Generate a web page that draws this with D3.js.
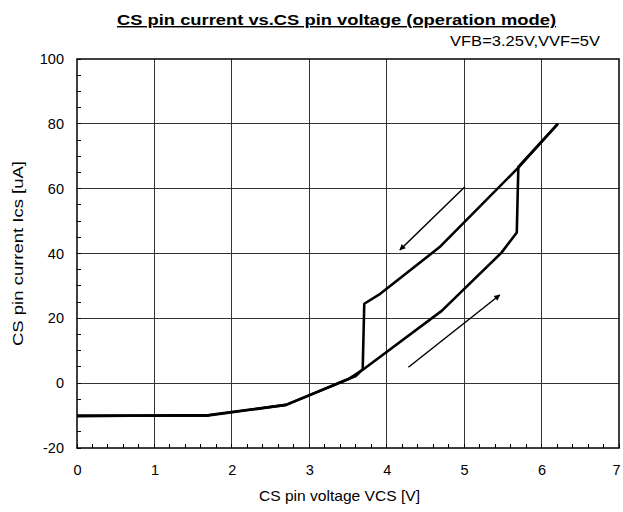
<!DOCTYPE html>
<html>
<head>
<meta charset="utf-8">
<script src="https://cdn.jsdelivr.net/npm/d3@7"></script>
<style>
  body { margin: 0; background: #fff; }
  text { font-family: "Liberation Sans", Arial, sans-serif; fill: #000; }
  .axis text { font-family: "Liberation Sans", Arial, sans-serif; }
  .grid line { stroke: #333; stroke-width: 1; shape-rendering: crispEdges; }
  .minor line { stroke: #000; stroke-width: 1; shape-rendering: crispEdges; }
</style>
</head>
<body>
<div id="chart"></div>
<script>
// data
var xTicks = [0, 1, 2, 3, 4, 5, 6, 7];
var yTicks = [-20, 0, 20, 40, 60, 80, 100];

// rising sweep (lower branch, then jump up at ~5.7V)
var upVolt = [0, 1.70, 2.70, 3.50, 3.70, 4.71, 5.48, 5.68, 5.70, 6.21];
var upCurr = [-10.2, -9.8, -6.7, 1.2, 4.3, 22.3, 40.2, 46.5, 66.7, 80];

// falling sweep (upper branch, then jump down at ~3.7V)
var downVolt = [6.21, 5.70, 4.68, 3.90, 3.71, 3.69, 3.60, 2.70, 1.70, 0.68, 0];
var downCurr = [80, 66.5, 41.9, 27.3, 24.5, 4.3, 2.2, -6.7, -10.0, -10.0, -10.0];

// direction arrows [x1, y1, x2, y2]
var arrowDown = [5.01, 60.6, 4.17, 41.1];
var arrowUp = [4.28, 4.9, 5.46, 27.2];

var margin = {top: 59, right: 4, bottom: 64, left: 77};

var x = d3.scaleLinear().domain([0, 7]).range([0, 542]);
var y = d3.scaleLinear().domain([-20, 100]).range([389, 0]);

var svg = d3.select("#chart").append("svg")
    .attr("width", 623)
    .attr("height", 512);

var g = svg.append("g")
    .attr("transform", "translate(" + margin.left + "," + margin.top + ")");

// gridlines
g.append("g")
    .attr("class", "grid")
    .selectAll("line")
    .data(xTicks.slice(1, -1))
    .enter().append("line")
    .attr("x1", function(d) { return x(d); })
    .attr("x2", function(d) { return x(d); })
    .attr("y1", 0)
    .attr("y2", y(-20));

g.append("g")
    .attr("class", "grid")
    .selectAll("line")
    .data(yTicks.slice(1, -1))
    .enter().append("line")
    .attr("x1", 0)
    .attr("x2", x(7))
    .attr("y1", function(d) { return y(d); })
    .attr("y2", function(d) { return y(d); });

// minor ticks, pointing inward
var xMinor = d3.range(0, 7.001, 0.2);
var yMinor = d3.range(-20, 100.001, 5);

g.append("g")
    .attr("class", "minor")
    .selectAll("line")
    .data(xMinor)
    .enter().append("line")
    .attr("x1", function(d) { return x(d); })
    .attr("x2", function(d) { return x(d); })
    .attr("y1", y(-20))
    .attr("y2", y(-20) - 4);

g.append("g")
    .attr("class", "minor")
    .selectAll("line")
    .data(yMinor)
    .enter().append("line")
    .attr("x1", 0)
    .attr("x2", 4)
    .attr("y1", function(d) { return y(d); })
    .attr("y2", function(d) { return y(d); });

// plot border
g.append("rect")
    .attr("x", 0)
    .attr("y", 0)
    .attr("width", x(7))
    .attr("height", y(-20))
    .attr("fill", "none")
    .attr("stroke", "#000")
    .attr("stroke-width", 1.5);

// tick labels only (domain removed, ticks drawn above)
var xAxis = d3.axisBottom(x).tickValues(xTicks).tickSize(0).tickPadding(17)
    .tickFormat(function(d) { return String(d); });
var yAxis = d3.axisLeft(y).tickValues(yTicks).tickSize(0).tickPadding(13)
    .tickFormat(function(d) { return String(d); });

var xg = g.append("g")
    .attr("class", "x axis")
    .attr("transform", "translate(0," + y(-20) + ")")
    .call(xAxis);
xg.select(".domain").remove();
xg.selectAll("text")
    .style("font-size", "14.5px")
    .attr("dx", function(d) { return d === 7 ? -3 : 0; });

var yg = g.append("g")
    .attr("class", "y axis")
    .call(yAxis);
yg.select(".domain").remove();
yg.selectAll("text")
    .style("font-size", "14.5px");

// curves
var line = d3.line()
    .x(function(d) { return x(d[0]); })
    .y(function(d) { return y(d[1]); });

var upData = upVolt.map(function(v, i) { return [v, upCurr[i]]; });
var downData = downVolt.map(function(v, i) { return [v, downCurr[i]]; });

[upData, downData].forEach(function(data) {
    g.append("path")
        .datum(data)
        .attr("class", "line")
        .attr("fill", "none")
        .attr("stroke", "#000")
        .attr("stroke-width", 2.6)
        .attr("stroke-linejoin", "round")
        .attr("d", line);
});

// arrows
svg.append("defs").append("marker")
    .attr("id", "head")
    .attr("viewBox", "0 0 10 10")
    .attr("refX", 9)
    .attr("refY", 5)
    .attr("markerWidth", 7)
    .attr("markerHeight", 6)
    .attr("orient", "auto")
    .attr("markerUnits", "userSpaceOnUse")
    .append("path")
    .attr("d", "M0,0L10,5L0,10z")
    .attr("fill", "#000");

[arrowDown, arrowUp].forEach(function(a) {
    g.append("line")
        .attr("x1", x(a[0]))
        .attr("y1", y(a[1]))
        .attr("x2", x(a[2]))
        .attr("y2", y(a[3]))
        .attr("stroke", "#000")
        .attr("stroke-width", 1.5)
        .attr("marker-end", "url(#head)");
});

// titles (reference text is set wide, so stretch to its measured length)
svg.append("text")
    .attr("x", 336.5)
    .attr("y", 25)
    .attr("text-anchor", "middle")
    .attr("textLength", 439)
    .attr("lengthAdjust", "spacingAndGlyphs")
    .style("font-size", "14.5px")
    .style("font-weight", "bold")
    .style("text-decoration", "underline")
    .text("CS pin current vs.CS pin voltage (operation mode)");

svg.append("text")
    .attr("x", 525)
    .attr("y", 46)
    .attr("text-anchor", "middle")
    .attr("textLength", 150)
    .attr("lengthAdjust", "spacingAndGlyphs")
    .style("font-size", "14px")
    .text("VFB=3.25V,VVF=5V");

svg.append("text")
    .attr("x", 339.5)
    .attr("y", 501)
    .attr("text-anchor", "middle")
    .attr("textLength", 161)
    .attr("lengthAdjust", "spacingAndGlyphs")
    .style("font-size", "15px")
    .text("CS pin voltage VCS [V]");

svg.append("text")
    .attr("transform", "translate(23," + (margin.top + y(40)) + ") rotate(-90)")
    .attr("text-anchor", "middle")
    .attr("textLength", 185)
    .attr("lengthAdjust", "spacingAndGlyphs")
    .style("font-size", "15px")
    .text("CS pin current Ics [uA]");
</script>
</body>
</html>
